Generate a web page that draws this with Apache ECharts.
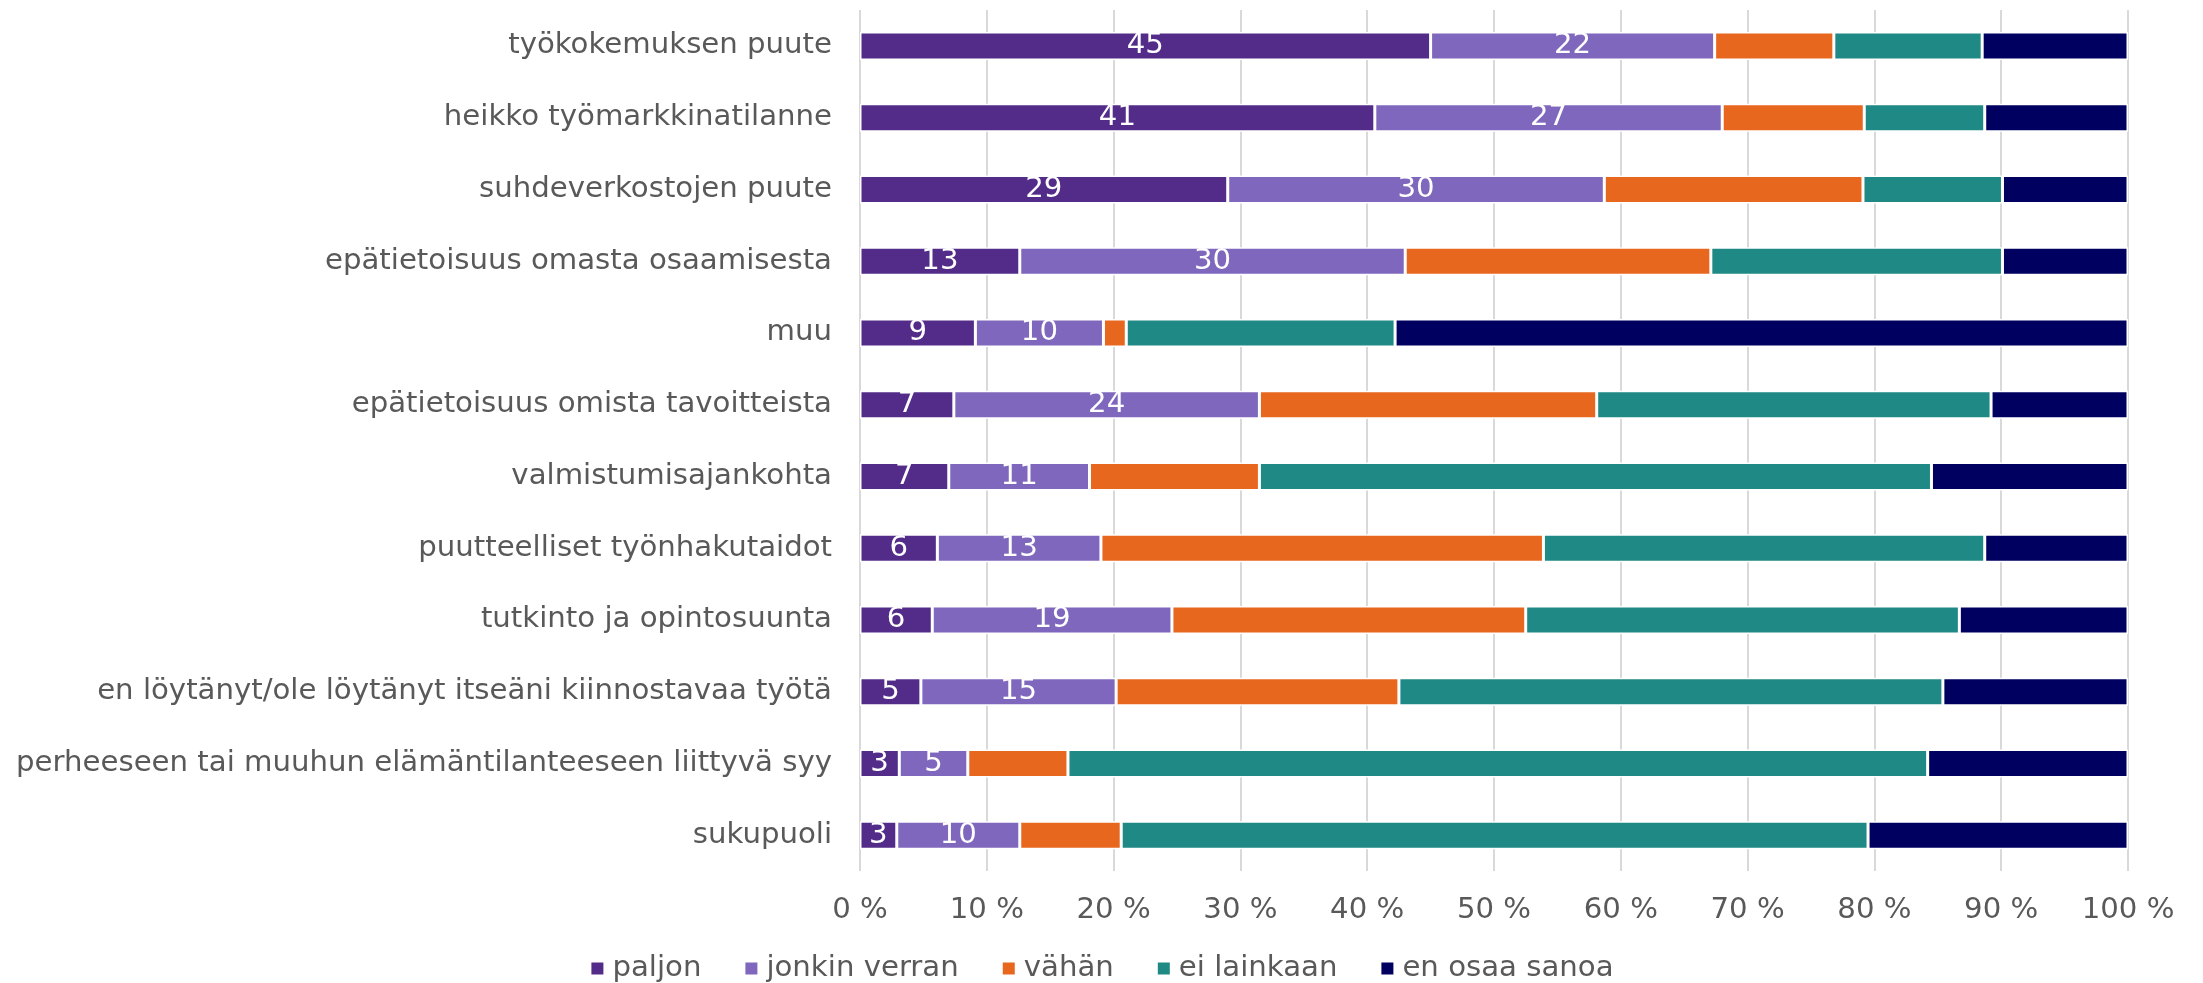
<!DOCTYPE html>
<html>
<head>
<meta charset="utf-8">
<script src="https://cdn.jsdelivr.net/npm/echarts@6/dist/echarts.min.js"></script>
<style>
html,body{margin:0;padding:0;background:#fff;}
#chart{width:2203px;height:983px;}
</style>
</head>
<body>
<div id="chart"></div>
<script>
const categories = [
  "työkokemuksen puute",
  "heikko työmarkkinatilanne",
  "suhdeverkostojen puute",
  "epätietoisuus omasta osaamisesta",
  "muu",
  "epätietoisuus omista tavoitteista",
  "valmistumisajankohta",
  "puutteelliset työnhakutaidot",
  "tutkinto ja opintosuunta",
  "en löytänyt/ole löytänyt itseäni kiinnostavaa työtä",
  "perheeseen tai muuhun elämäntilanteeseen liittyvä syy",
  "sukupuoli"
];
const seriesNames = ["paljon", "jonkin verran", "vähän", "ei lainkaan", "en osaa sanoa"];
const paljon       = [45.0, 40.6, 29.0, 12.6,  9.1,  7.4,  7.0,  6.1,  5.7,  4.8,  3.1,  2.9];
const jonkinVerran = [22.4, 27.4, 29.7, 30.4, 10.1, 24.1, 11.1, 12.9, 18.9, 15.4,  5.4,  9.7];
const vahan        = [ 9.4, 11.2, 20.4, 24.1,  1.8, 26.6, 13.4, 34.9, 27.9, 22.3,  7.9,  8.0];
const eiLainkaan   = [11.7,  9.5, 11.0, 23.0, 21.2, 31.1, 53.0, 34.8, 34.2, 42.9, 67.8, 58.9];
const enOsaaSanoa  = [11.5, 11.3,  9.9,  9.9, 57.8, 10.8, 15.5, 11.3, 13.3, 14.6, 15.8, 20.5];
const tickLabels = ["0 %","10 %","20 %","30 %","40 %","50 %","60 %","70 %","80 %","90 %","100 %"];

const colors = ["#532C8A", "#7F67BD", "#E8671F", "#1E8985", "#000060"];
const values = [paljon, jonkinVerran, vahan, eiLainkaan, enOsaaSanoa];
const FONT = "DejaVu Sans";

const chart = echarts.init(document.getElementById('chart'), null, {renderer: 'canvas'});
chart.setOption({
  animation: false,
  textStyle: {fontFamily: FONT},
  grid: {left: 860, right: 75, top: 10, bottom: 112, containLabel: false},
  legend: {
    data: seriesNames,
    top: 949,
    left: 'center',
    itemWidth: 14,
    itemHeight: 14,
    itemGap: 42,
    icon: 'rect',
    textStyle: {fontFamily: FONT, fontSize: 29.2, color: '#595959', padding: [0, 0, 0, 3]}
  },
  xAxis: {
    type: 'value',
    min: 0, max: 100, interval: 10,
    axisLine: {show: false},
    axisTick: {show: false},
    splitLine: {show: true, lineStyle: {color: '#D9D9D9', width: 2}},
    axisLabel: {
      fontFamily: FONT, fontSize: 29.2, color: '#595959', margin: 25,
      formatter: function (v) { return tickLabels[Math.round(v / 10)]; }
    }
  },
  yAxis: {
    type: 'category',
    data: categories,
    inverse: true,
    axisLine: {show: false},
    axisTick: {show: false},
    splitLine: {show: false},
    axisLabel: {fontFamily: FONT, fontSize: 29.2, color: '#595959', margin: 28}
  },
  series: seriesNames.map(function (name, i) {
    return {
      name: name,
      type: 'bar',
      stack: 'total',
      barWidth: 28,
      data: values[i],
      itemStyle: {color: colors[i], borderColor: '#ffffff', borderWidth: 1.5},
      label: {
        show: i < 2,
        position: 'inside',
        color: '#ffffff',
        fontFamily: FONT,
        fontSize: 29.2,
        formatter: function (p) { return Math.round(p.value); }
      }
    };
  })
});
</script>
</body>
</html>
